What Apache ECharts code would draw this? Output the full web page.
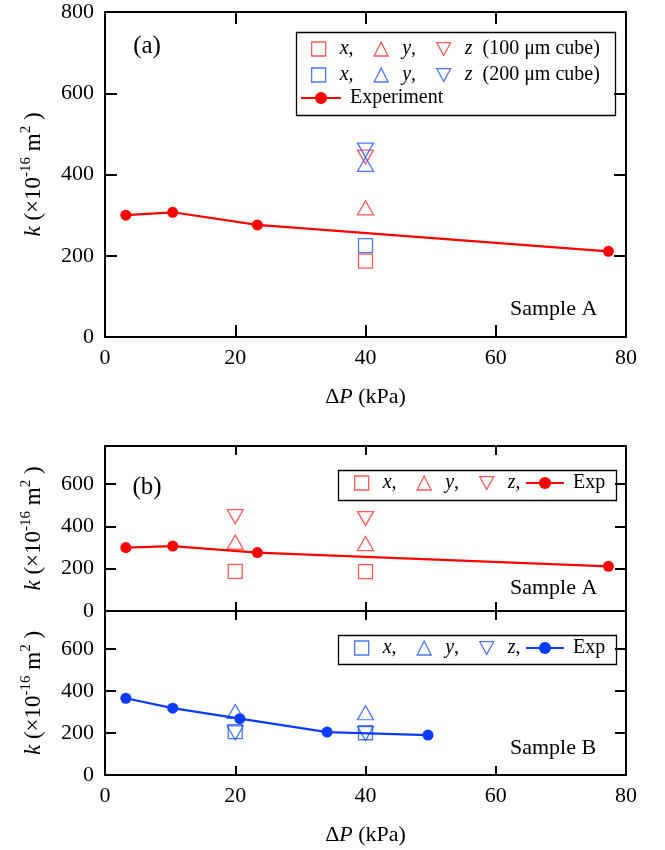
<!DOCTYPE html>
<html>
<head>
<meta charset="utf-8">
<script src="https://cdn.jsdelivr.net/npm/echarts@6/dist/echarts.min.js"></script>
<style>
html,body{margin:0;padding:0;background:#fff;}
#c{width:665px;height:850px;}
</style>
</head>
<body>
<div id="c"></div>
<script>
// ---------- data ----------
const xTicks = [0, 20, 40, 60, 80];
const yTicksA = [0, 200, 400, 600, 800];
const yTicksBC = [0, 200, 400, 600];

// Experiment, sample A
const expA_P = [3.2, 10.4, 23.4, 77.3];
const expA_k = [300, 307, 276, 211];

// Panel (a): simulations at 40 kPa, sample A
const simA_P = [40];
const simA100_x = [187];
const simA100_y = [318];
const simA100_z = [443];
const simA200_x = [225];
const simA200_y = [425];
const simA200_z = [460];

// Panel (b): simulations, sample A
const simB_P = [20, 40];
const simB_x = [187, 186];
const simB_y = [326, 319];
const simB_z = [446, 437];

// Panel (c): sample B
const expB_P = [3.2, 10.4, 20.7, 34.1, 49.6];
const expB_k = [365, 318, 268, 204, 190];
const simC_P = [20, 40];
const simC_x = [206, 201];
const simC_y = [302, 296];
const simC_z = [200, 197];

// ---------- helpers ----------
const FONT = 'Liberation Serif';
const RED = '#ff0000';
const RED_H = '#ff3030';
const BLUE = '#0a3cff';
const BLUE_H = '#1f55ff';
const DOWN_TRI = 'path://M0,0 L20,0 L10,18 Z';

function pts(xs, ys) { return xs.map((x, i) => [x, ys[i]]); }

const chart = echarts.init(document.getElementById('c'), null, {renderer: 'canvas'});

const grids = [
  {left: 105, top: 12, width: 521, height: 325},
  {left: 105, top: 446, width: 521, height: 165},
  {left: 105, top: 611, width: 521, height: 164}
];

const richTxt = {
  t: {fontFamily: FONT, fontSize: 22, color: '#000'},
  i: {fontFamily: FONT, fontSize: 22, fontStyle: 'italic', color: '#000'}
};

function xAx(gi, pos, showLabel, showName, tickLen) {
  return {
    type: 'value', gridIndex: gi, position: pos, min: 0, max: 80, interval: 20,
    axisLine: {show: true, onZero: false, lineStyle: {color: '#000', width: 2}},
    axisTick: {show: true, inside: true, length: tickLen, lineStyle: {color: '#000', width: 2}},
    axisLabel: {show: showLabel, margin: 10, fontFamily: FONT, fontSize: 22, color: '#000'},
    splitLine: {show: false},
    name: showName ? '{t|Δ}{i|P}{t| (kPa)}' : '',
    nameLocation: 'middle', nameGap: 49,
    nameTextStyle: {rich: richTxt}
  };
}
function yAx(gi, pos, max, showLabel, showName, tickLen) {
  return {
    type: 'value', gridIndex: gi, position: pos, min: 0, max: max, interval: 200,
    axisLine: {show: true, onZero: false, lineStyle: {color: '#000', width: 2}},
    axisTick: {show: true, inside: true, length: tickLen, lineStyle: {color: '#000', width: 2}},
    axisLabel: {show: showLabel, margin: 11, fontFamily: FONT, fontSize: 22, color: '#000',
      formatter: v => (v % 200 === 0 ? String(v) : '')},
    splitLine: {show: false},
    name: showName ? '{i|k}{t| (×10}{s|-16}{t| m}{s|2}{t| )}' : '',
    nameLocation: 'middle', nameRotate: 90, nameGap: 57,
    nameTextStyle: {rich: {
      t: {fontFamily: FONT, fontSize: 23, color: '#000', lineHeight: 29},
      i: {fontFamily: FONT, fontSize: 23, fontStyle: 'italic', color: '#000', lineHeight: 29},
      s: {fontFamily: FONT, fontSize: 15, color: '#000', lineHeight: 15, verticalAlign: 'top'}
    }}
  };
}

const xAxes = [
  xAx(0, 'bottom', true, true, 12), xAx(0, 'top', false, false, 12),
  xAx(1, 'bottom', false, false, 9), xAx(1, 'top', false, false, 9),
  xAx(2, 'bottom', true, true, 9), xAx(2, 'top', false, false, 9)
];
const yAxes = [
  yAx(0, 'left', 800, true, true, 12), yAx(0, 'right', 800, false, false, 12),
  yAx(1, 'left', 780, true, true, 11), yAx(1, 'right', 780, false, false, 11),
  yAx(2, 'left', 780, true, true, 11), yAx(2, 'right', 780, false, false, 11)
];

function scat(name, axis, data, symbol, color, rotate, size) {
  return {
    name: name, type: 'scatter', xAxisIndex: axis, yAxisIndex: axis, data: data,
    symbol: symbol, symbolSize: size, symbolRotate: rotate || 0,
    itemStyle: {color: 'rgba(255,255,255,0)', borderColor: color, borderWidth: 1.3},
    emphasis: {disabled: true}, silent: true, z: 3
  };
}
function expLine(name, axis, data, color) {
  return {
    name: name, type: 'line', xAxisIndex: axis, yAxisIndex: axis, data: data,
    symbol: 'circle', symbolSize: 11, showSymbol: true,
    lineStyle: {color: color, width: 2.2}, itemStyle: {color: color},
    emphasis: {disabled: true}, silent: true, z: 4, animation: false
  };
}

const SQ = 14, TRI = [16, 14];
const series = [
  expLine('a_exp', 0, pts(expA_P, expA_k), RED),
  scat('a_x100', 0, pts(simA_P, simA100_x), 'rect', RED_H, 0, SQ),
  scat('a_y100', 0, pts(simA_P, simA100_y), 'triangle', RED_H, 0, TRI),
  scat('a_z100', 0, pts(simA_P, simA100_z), 'triangle', RED_H, 180, TRI),
  scat('a_x200', 0, pts(simA_P, simA200_x), 'rect', BLUE_H, 0, SQ),
  scat('a_y200', 0, pts(simA_P, simA200_y), 'triangle', BLUE_H, 0, TRI),
  scat('a_z200', 0, pts(simA_P, simA200_z), 'triangle', BLUE_H, 180, TRI),

  expLine('b_exp', 2, pts(expA_P, expA_k), RED),
  scat('b_x', 2, pts(simB_P, simB_x), 'rect', RED_H, 0, SQ),
  scat('b_y', 2, pts(simB_P, simB_y), 'triangle', RED_H, 0, TRI),
  scat('b_z', 2, pts(simB_P, simB_z), 'triangle', RED_H, 180, TRI),

  expLine('c_exp', 4, pts(expB_P, expB_k), BLUE),
  scat('c_x', 4, pts(simC_P, simC_x), 'rect', BLUE_H, 0, SQ),
  scat('c_y', 4, pts(simC_P, simC_y), 'triangle', BLUE_H, 0, TRI),
  scat('c_z', 4, pts(simC_P, simC_z), 'triangle', BLUE_H, 180, TRI)
];

const legendLabels = {
  a_x100: '{i|x}{t|,}', a_y100: '{i|y}{t|,}', a_z100: '{i|z}{t|  (100 μm cube)}',
  a_x200: '{i|x}{t|,}', a_y200: '{i|y}{t|,}', a_z200: '{i|z}{t|  (200 μm cube)}',
  a_exp: '{t|Experiment}',
  b_x: '{i|x}{t|,}', b_y: '{i|y}{t|,}', b_z: '{i|z}{t|,}', b_exp: '{t|Exp}',
  c_x: '{i|x}{t|,}', c_y: '{i|y}{t|,}', c_z: '{i|z}{t|,}', c_exp: '{t|Exp}'
};
const legRich = {
  t: {fontFamily: FONT, fontSize: 20, color: '#000', lineHeight: 20},
  i: {fontFamily: FONT, fontSize: 20, fontStyle: 'italic', color: '#000', lineHeight: 20}
};
function symLegend(names, left, top) {
  return {
    data: [
      {name: names[0]},
      {name: names[1]},
      {name: names[2], icon: DOWN_TRI}
    ],
    left: left, top: top, orient: 'horizontal', padding: 0,
    itemWidth: 14, itemHeight: 14, itemGap: 20, selectedMode: false,
    itemStyle: {borderWidth: 1.3},
    formatter: n => legendLabels[n],
    textStyle: {rich: legRich, padding: [0, 0, 0, 9], lineHeight: 20}
  };
}
function expLegend(name, left, top, w) {
  return {
    data: [name], left: left, top: top, orient: 'horizontal', padding: 0,
    itemWidth: w, itemHeight: 15, selectedMode: false,
    formatter: n => legendLabels[n],
    textStyle: {rich: legRich, padding: [0, 0, 0, 4], lineHeight: 20}
  };
}

const legends = [
  symLegend(['a_x100', 'a_y100', 'a_z100'], 311, 39),
  symLegend(['a_x200', 'a_y200', 'a_z200'], 311, 65),
  expLegend('a_exp', 300, 88, 40),
  symLegend(['b_x', 'b_y', 'b_z'], 354, 473),
  expLegend('b_exp', 525, 473, 38),
  symLegend(['c_x', 'c_y', 'c_z'], 354, 638),
  expLegend('c_exp', 525, 638, 38)
];

function box(x, y, w, h) {
  return {type: 'rect', left: x, top: y, shape: {x: 0, y: 0, width: w, height: h},
    style: {fill: 'none', stroke: '#000', lineWidth: 1.3}, silent: true, z: 10};
}
function txt(s, x, y, size, align) {
  return {type: 'text', x: x, y: y, silent: true, z: 10,
    style: {text: s, fontFamily: FONT, fontSize: size, fill: '#000',
      align: align || 'left', verticalAlign: 'middle'}};
}

const graphics = [
  box(294, 30, 319, 83),
  box(336, 468, 278, 30),
  box(336, 633, 278, 29),
  txt('(a)', 147, 46, 25, 'center'),
  txt('(b)', 147, 487, 25, 'center'),
  txt('Sample A', 510, 309, 22),
  txt('Sample A', 510, 588, 22),
  txt('Sample B', 510, 748, 22)
];

chart.setOption({
  animation: false,
  backgroundColor: '#fff',
  grid: grids,
  xAxis: xAxes,
  yAxis: yAxes,
  legend: legends,
  series: series,
  graphic: graphics
});
</script>
</body>
</html>
